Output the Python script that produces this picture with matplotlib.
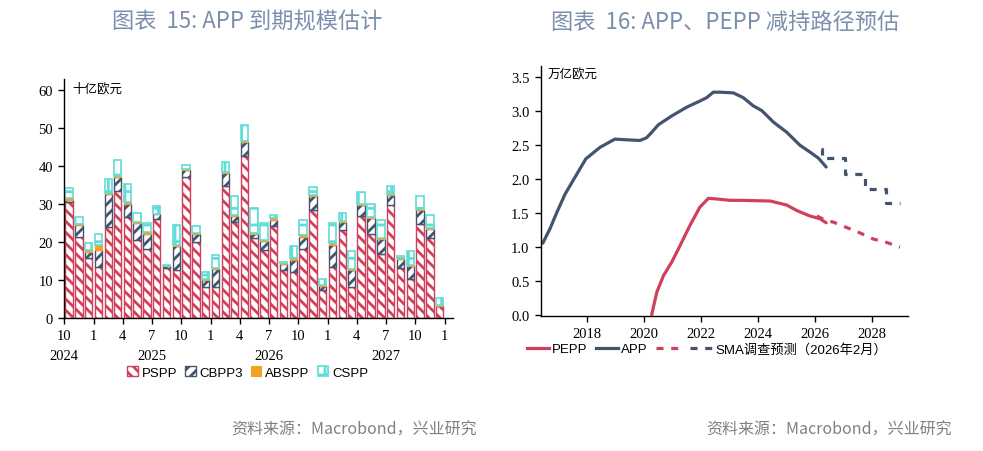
import matplotlib
matplotlib.use("Agg")
import matplotlib.pyplot as plt
import matplotlib.dates as mdates
import numpy as np
import pandas as pd
from matplotlib.lines import Line2D

# ---------------- data: left chart (billion EUR, monthly maturities) ----------------
months = pd.date_range("2024-10-01", periods=39, freq="MS")
pspp = [30.4, 21.3, 15.7, 13.5, 24.0, 33.3, 26.5, 20.5, 18.2, 26.1, 13.1, 12.6, 37.0,
        20.0, 8.3, 8.2, 34.6, 25.2, 42.6, 21.1, 17.8, 24.3, 12.6, 12.2, 18.2, 28.4,
        7.5, 13.5, 23.1, 8.3, 26.9, 22.1, 16.8, 29.8, 13.3, 10.3, 24.8, 21.1, 3.1]
cbpp3 = [0.7, 3.2, 1.8, 4.3, 8.6, 3.8, 3.6, 4.5, 4.0, 1.2, 0.5, 6.5, 1.8,
         2.1, 1.8, 4.7, 3.5, 1.6, 3.6, 1.1, 2.5, 1.6, 1.6, 3.1, 3.2, 3.7,
         1.1, 5.8, 2.3, 4.4, 2.8, 4.2, 4.0, 2.6, 2.3, 3.3, 3.6, 2.3, 0.2]
abspp = [0.4, 0.3, 0.3, 1.4, 0.3, 0.3, 0.3, 0.3, 0.4, 0.2, 0.2, 0.2, 0.4,
         0.4, 0.3, 0.3, 0.4, 0.2, 0.4, 0.3, 0.3, 0.3, 0.2, 0.4, 0.4, 0.3,
         0.2, 0.4, 0.2, 0.2, 0.2, 0.4, 0.3, 0.2, 0.2, 0.3, 0.3, 0.2, 0.2]
cspp = [2.7, 1.8, 1.9, 2.8, 3.6, 4.1, 4.9, 2.3, 2.5, 2.0, 0.3, 5.1, 0.9,
        1.8, 1.7, 3.5, 2.6, 5.2, 4.2, 6.4, 4.4, 0.8, 0.5, 3.2, 4.0, 2.1,
        1.5, 5.4, 2.1, 4.8, 3.2, 3.2, 4.8, 2.0, 0.5, 3.7, 3.3, 3.5, 1.7]
series_names = ["PSPP", "CBPP3", "ABSPP", "CSPP"]
month_tick_labels = ["10", "1", "4", "7"]
year_labels = ["2024", "2025", "2026", "2027"]

# ---------------- data: right chart (trillion EUR) ----------------
app_x = [2016.44, 2016.69, 2016.93, 2017.22, 2017.57, 2017.95, 2018.45, 2018.97, 2019.38,
         2019.85, 2020.08, 2020.26, 2020.49, 2020.96, 2021.49, 2021.95, 2022.19, 2022.42,
         2022.66, 2023.12, 2023.47, 2023.82, 2024.12, 2024.53, 2025.00, 2025.46, 2025.81,
         2026.11, 2026.38]
app_y = [1.05, 1.26, 1.50, 1.77, 2.02, 2.29, 2.46, 2.58, 2.57,
         2.56, 2.60, 2.68, 2.79, 2.92, 3.05, 3.14, 3.19, 3.27,
         3.27, 3.26, 3.19, 3.07, 3.00, 2.83, 2.68, 2.49, 2.39,
         2.30, 2.17]
pepp_x = [2020.26, 2020.44, 2020.67, 2020.96, 2021.25, 2021.60, 2021.95, 2022.25, 2022.54,
          2023.01, 2023.36, 2024.42, 2025.00, 2025.35, 2025.81, 2026.16, 2026.38]
pepp_y = [0.00, 0.33, 0.57, 0.77, 1.01, 1.31, 1.58, 1.71, 1.70,
          1.68, 1.68, 1.67, 1.61, 1.53, 1.45, 1.41, 1.35]
app_fc_x = [2026.20, 2026.24, 2027.03, 2027.73, 2028.47, 2028.97]
app_fc_y = [2.43, 2.30, 2.06, 1.85, 1.64, 1.64]
pepp_fc_x = [2026.05, 2026.40, 2026.63, 2027.10, 2027.57, 2028.04, 2028.51, 2028.97]
pepp_fc_y = [1.45, 1.38, 1.36, 1.28, 1.20, 1.11, 1.06, 0.99]

# ---------------- style ----------------
RED = "#D0405A"
NAVY = "#44546F"
ORANGE = "#F4A124"
CYAN = "#5FDDD6"
TITLE_C = "#7A8EAD"
SRC_C = "#808080"
SERIF = ["Liberation Serif", "DejaVu Serif"]
NARROW = ["Liberation Sans Narrow", "Liberation Sans", "Noto Sans CJK SC"]
CJK = ["Noto Sans CJK SC", "DejaVu Sans"]

plt.rcParams["hatch.linewidth"] = 2.0
plt.rcParams["axes.linewidth"] = 1.0

fig = plt.figure(figsize=(9.83, 4.52), dpi=100)

# ================= left chart =================
ax = fig.add_axes([0.0654, 0.2936, 0.3954, 0.5294])
centers = mdates.date2num(months) + 15
w = 24
p = np.array(pspp); c = np.array(cbpp3); a = np.array(abspp); s = np.array(cspp)
b1 = ax.bar(centers, p, width=w, color="white", edgecolor=RED, hatch="\\\\\\", linewidth=1.0, label="PSPP")
b2 = ax.bar(centers, c, bottom=p, width=w, color="white", edgecolor=NAVY, hatch="///", linewidth=1.0, label="CBPP3")
b3 = ax.bar(centers, a, bottom=p + c, width=w, color=ORANGE, edgecolor=ORANGE, linewidth=0.8, label="ABSPP")
b4 = ax.bar(centers, s, bottom=p + c + a, width=w, color="white", edgecolor=CYAN, hatch="+", linewidth=1.2, label="CSPP")

xmin = mdates.date2num(pd.Timestamp("2024-10-01"))
xmax = mdates.date2num(pd.Timestamp("2028-01-27"))
ax.set_xlim(xmin, xmax)
ax.set_ylim(0, 62.8)
ax.set_yticks(np.arange(0, 61, 10))
tick_dates = pd.date_range("2024-10-01", "2028-01-01", freq="3MS")
ax.set_xticks(mdates.date2num(tick_dates))
ax.set_xticklabels([month_tick_labels[i % 4] for i in range(len(tick_dates))])
for sp in ["top", "right"]:
    ax.spines[sp].set_visible(False)
ax.tick_params(direction="out", length=4, width=1.0, labelsize=10.5, pad=4)
for lab in ax.get_xticklabels() + ax.get_yticklabels():
    lab.set_family(SERIF)
trans = matplotlib.transforms.blended_transform_factory(ax.transData, ax.transAxes)
year_pos = [pd.Timestamp("2024-10-01"), pd.Timestamp("2025-07-01"),
            pd.Timestamp("2026-07-01"), pd.Timestamp("2027-07-01")]
for yl, yp in zip(year_labels, year_pos):
    ax.text(mdates.date2num(yp), -0.155, yl, transform=trans, ha="center", va="center",
            fontsize=10.5, family=SERIF)
fig.text(0.074, 0.803, "十亿欧元", fontsize=9, family=CJK, va="center", ha="left")
fig.legend(handles=[b1, b2, b3, b4], labels=series_names, loc="center",
           bbox_to_anchor=(0.252, 0.174), ncol=4, frameon=False, handlelength=0.8,
           handleheight=0.8, handletextpad=0.3, columnspacing=0.6,
           prop={"family": NARROW, "size": 9.5})

# ================= right chart =================
ax2 = fig.add_axes([0.550, 0.298, 0.374, 0.553])
lw = 2.3
ax2.plot(pepp_x, pepp_y, color=RED, lw=lw, solid_capstyle="round")
ax2.plot(app_x, app_y, color=NAVY, lw=lw, solid_capstyle="round")
ax2.plot(pepp_fc_x, pepp_fc_y, color=RED, lw=lw, linestyle=(0, (2.2, 2.4)))
ax2.plot(app_fc_x, app_fc_y, color=NAVY, lw=lw, linestyle=(0, (2.2, 2.4)), drawstyle="steps-post")
ax2.set_xlim(2016.365, 2029.26)
ax2.set_ylim(-0.025, 3.65)
ax2.set_xticks(np.arange(2018, 2029, 2))
ax2.set_yticks(np.arange(0, 3.51, 0.5))
ax2.set_yticklabels([f"{v:.1f}" for v in np.arange(0, 3.51, 0.5)])
for sp in ["top", "right"]:
    ax2.spines[sp].set_visible(False)
ax2.tick_params(direction="out", length=4, width=1.0, labelsize=10.5, pad=4)
for lab in ax2.get_xticklabels() + ax2.get_yticklabels():
    lab.set_family(SERIF)
fig.text(0.557, 0.834, "万亿欧元", fontsize=9, family=CJK, va="center", ha="left")
handles = [Line2D([], [], color=RED, lw=lw), Line2D([], [], color=NAVY, lw=lw),
           Line2D([], [], color=RED, lw=lw, linestyle=(0, (2.2, 2.4))),
           Line2D([], [], color=NAVY, lw=lw, linestyle=(0, (2.2, 2.4)))]
fig.legend(handles=handles, labels=["PEPP", "APP", "", "SMA调查预测（2026年2月）"], loc="center",
           bbox_to_anchor=(0.719, 0.226), ncol=4, frameon=False, handlelength=1.7,
           handletextpad=0.25, columnspacing=0.6,
           prop={"family": NARROW, "size": 9.5})

# ================= titles & sources =================
fig.text(0.252, 0.951, "图表  15: APP 到期规模估计", ha="center", va="center",
         fontsize=16, color=TITLE_C, family=CJK, fontweight="medium")
fig.text(0.7375, 0.951, "图表  16: APP、PEPP 减持路径预估", ha="center", va="center",
         fontsize=16, color=TITLE_C, family=CJK, fontweight="medium")
fig.text(0.485, 0.049, "资料来源：Macrobond，兴业研究", ha="right", va="center",
         fontsize=11.5, color=SRC_C, family=CJK)
fig.text(0.968, 0.049, "资料来源：Macrobond，兴业研究", ha="right", va="center",
         fontsize=11.5, color=SRC_C, family=CJK)

fig.savefig("out.png", dpi=100)
